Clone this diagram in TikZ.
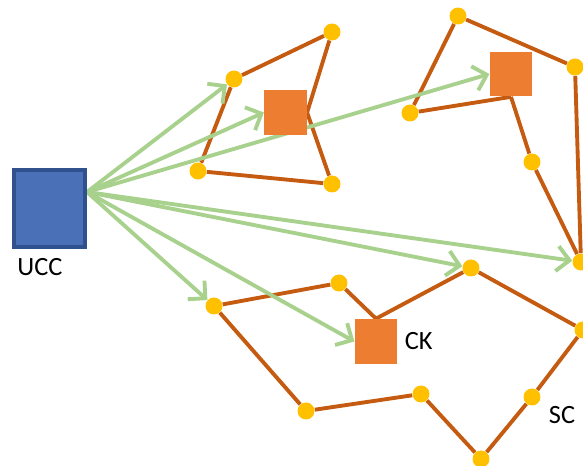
\documentclass[tikz,border=0pt]{standalone}
\usepackage{fontspec}
\setmainfont{Carlito}
\usepackage{tikz}
\usetikzlibrary{arrows.meta, positioning, backgrounds}

\definecolor{uccblue}{HTML}{4A70B8}
\definecolor{uccedge}{HTML}{2F528F}
\definecolor{ckorange}{HTML}{ED7D31}
\definecolor{linkbrown}{HTML}{C55A11}
\definecolor{dotyellow}{HTML}{FFC000}
\definecolor{feedgreen}{HTML}{A9D18E}

\begin{document}
\begin{tikzpicture}[x=0.02cm, y=-0.02cm,
    dot/.style={circle, fill=dotyellow, inner sep=0pt, minimum size=0.34cm},
    head/.style={rectangle, fill=ckorange, inner sep=0pt, minimum width=0.85cm, minimum height=0.9cm},
    link/.style={draw=linkbrown, line width=2.2pt},
    feed/.style={draw=feedgreen, line width=2.2pt, -{Straight Barb[length=2.5mm, width=5mm]}},
    tag/.style={font=\fontsize{15}{18}\selectfont}]
    \useasboundingbox (0,0) rectangle (583,466);

    % control centre
    \node[rectangle, fill=uccblue, draw=uccedge, line width=2.2pt, minimum width=1.43cm, minimum height=1.55cm] (ucc) at (49.5,208.5) {};
    \node[tag] (ucclabel) at (40,267) {UCC};
    \coordinate (hub) at (87,192);

    % cluster heads
    \node[head] (h1) at (285.5,112.5) {};
    \node[head] (h2) at (511,74) {};
    \node[head] (ck) at (376,341.5) {};
    \node[tag, right=0.02cm of ck] (cklabel) {CK};
    \node[tag] (sclabel) at (562,415) {SC};

    % sensors
    \node[dot] (a1) at (234,79) {};
    \node[dot] (a2) at (332,32) {};
    \node[dot] (a3) at (198,171) {};
    \node[dot] (a4) at (332,184) {};

    \node[dot] (b1) at (458,16) {};
    \node[dot] (b2) at (575,67) {};
    \node[dot] (b3) at (410,113) {};
    \node[dot] (b4) at (532,162) {};
    \node[dot] (b5) at (581,262) {};

    \node[dot] (c1) at (214,306) {};
    \node[dot] (c2) at (339,283) {};
    \node[dot] (c3) at (471,268) {};
    \node[dot] (c4) at (583,330) {};
    \node[dot] (c5) at (532,397) {};
    \node[dot] (c6) at (481,459) {};
    \node[dot] (c7) at (421,394) {};
    \node[dot] (c8) at (306,411) {};

    \begin{scope}[on background layer]
    % links
    \draw[link] (a1) -- (a2);
    \draw[link] (a2) -- (h1.east);
    \draw[link] (h1.east) -- (a4);
    \draw[link] (a4) -- (a3);
    \draw[link] (a3) -- (a1);

    \draw[link] (b1) -- (b2);
    \draw[link] (b2) -- (b5);
    \draw[link] (b1) -- (b3);
    \draw[link] (b3) -- (h2.south);
    \draw[link] (h2.south) -- (b4);
    \draw[link] (b4) -- (b5);

    \draw[link] (c1) -- (c2);
    \draw[link] (c2) -- (ck.north);
    \draw[link] (ck.north) -- (c3);
    \draw[link] (c3) -- (c4);
    \draw[link] (c4) -- (c5);
    \draw[link] (c5) -- (c6);
    \draw[link] (c6) -- (c7);
    \draw[link] (c7) -- (c8);
    \draw[link] (c8) -- (c1);

    % feeds from the control centre
    \draw[feed] (hub) -- (a1);
    \draw[feed] (hub) -- (h1.west);
    \draw[feed] (hub) -- (h2.west);
    \draw[feed] (hub) -- (b5);
    \draw[feed] (hub) -- (c3);
    \draw[feed] (hub) -- (ck.west);
    \draw[feed] (hub) -- (c1);
    \end{scope}
\end{tikzpicture}
\end{document}
